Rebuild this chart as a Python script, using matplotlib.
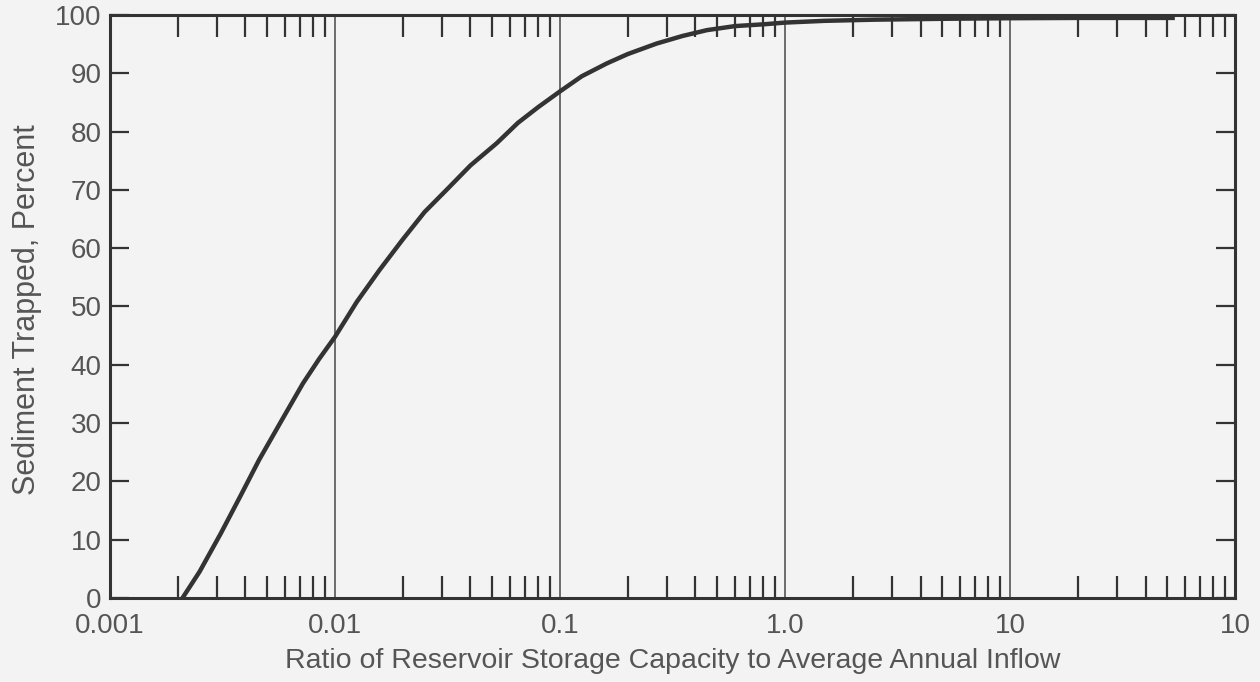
import matplotlib.pyplot as plt
from matplotlib.ticker import FixedLocator, FixedFormatter, LogLocator, NullFormatter

# Trap efficiency curve
ratio = [0.0021, 0.0025, 0.0031, 0.0038, 0.0046, 0.0058, 0.0072, 0.0085, 0.01,
         0.0125, 0.0158, 0.02, 0.025, 0.0313, 0.04, 0.0523, 0.065, 0.08, 0.1,
         0.125, 0.1615, 0.2, 0.2686, 0.35, 0.449, 0.6, 0.8, 1.0, 1.5, 2.5,
         5.0, 10.0, 20.0, 54.0]
trapped = [0, 4.5, 11, 17.5, 23.7, 30.5, 36.8, 41, 44.8,
           50.8, 56.3, 61.5, 66.2, 70, 74.2, 78, 81.5, 84.2, 86.9,
           89.5, 91.7, 93.3, 95.1, 96.4, 97.4, 98.1, 98.4, 98.7, 99.0, 99.2,
           99.35, 99.45, 99.5, 99.5]

xticks = [0.001, 0.01, 0.1, 1.0, 10, 100]
xlabels = ['0.001', '0.01', '0.1', '1.0', '10', '10']
yticks = [0, 10, 20, 30, 40, 50, 60, 70, 80, 90, 100]

plt.rcParams['font.family'] = ['Liberation Sans', 'DejaVu Sans']
txt = '#555555'
ink = '#333333'

fig = plt.figure(figsize=(12.6, 6.82), dpi=100)
fig.patch.set_facecolor('#f3f3f3')
ax = fig.add_axes([0.0873, 0.1232, 0.8929, 0.8548])
ax.set_facecolor('#f3f3f3')

ax.set_xscale('log')
ax.set_xlim(0.001, 100)
ax.set_ylim(0, 100)

# vertical decade lines
for xv in xticks[1:-1]:
    ax.axvline(xv, color='#555555', lw=1.2, zorder=1)

ax.plot(ratio, trapped, color=ink, lw=3.2, solid_capstyle='butt',
        solid_joinstyle='round', zorder=3)

ax.xaxis.set_major_locator(FixedLocator(xticks))
ax.xaxis.set_major_formatter(FixedFormatter(xlabels))
ax.xaxis.set_minor_locator(LogLocator(base=10, subs=range(2, 10)))
ax.xaxis.set_minor_formatter(NullFormatter())
ax.tick_params(axis='x', which='major', length=0, labelsize=20, labelcolor=txt, pad=11)
ax.tick_params(axis='x', which='minor', direction='in', length=16, width=1.6,
               color=ink, top=True, bottom=True)

ax.set_yticks(yticks)
ax.tick_params(axis='y', direction='in', length=14, width=1.6, color=ink,
               left=True, right=True, labelsize=20, labelcolor=txt, pad=6)

for s in ax.spines.values():
    s.set_color(ink)
    s.set_linewidth(2.2)

ax.set_xlabel('Ratio of Reservoir Storage Capacity to Average Annual Inflow',
              fontsize=20.5, color=txt, labelpad=6)
ax.set_ylabel('Sediment Trapped, Percent', fontsize=22, color=txt)
ax.yaxis.set_label_coords(-0.060, 0.494)

fig.savefig('out.png', dpi=100, facecolor=fig.get_facecolor())
